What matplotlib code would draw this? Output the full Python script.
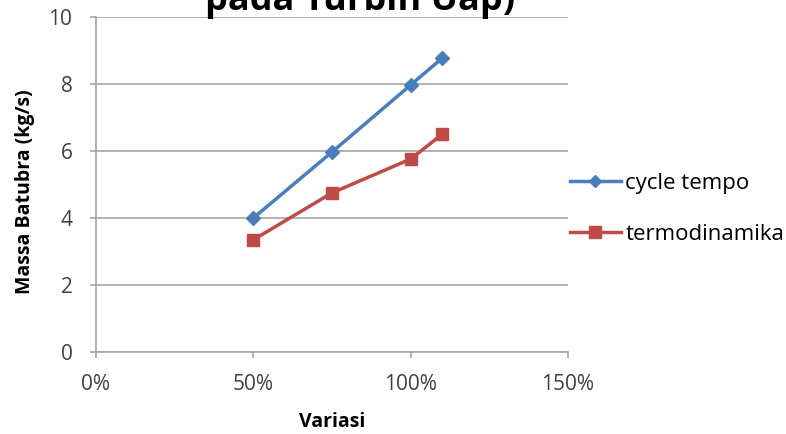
import matplotlib.pyplot as plt
from matplotlib.ticker import FuncFormatter

plt.rcParams['font.family'] = ['Open Sans', 'DejaVu Sans']

# data
variasi = [50, 75, 100, 110]
cycle_tempo = [4.0, 5.97, 7.97, 8.77]
termodinamika = [3.35, 4.75, 5.76, 6.5]

fig = plt.figure(figsize=(7.86, 4.34), dpi=100)
ax = fig.add_axes([96/786, 1 - 352/434, (568-96)/786, (352-17)/434])

ax.plot(variasi, cycle_tempo, color='#4a7ebb', lw=2.5, marker='D', ms=7,
        label='cycle tempo')
ax.plot(variasi, termodinamika, color='#be4b48', lw=2.5, marker='s', ms=9,
        label='termodinamika')

ax.set_xlim(0, 150)
ax.set_ylim(0, 10)
ax.set_xticks([0, 50, 100, 150])
ax.set_yticks([0, 2, 4, 6, 8, 10])
ax.xaxis.set_major_formatter(FuncFormatter(lambda v, p: '%d%%' % v))
ax.grid(axis='y', color='#a6a6a6', lw=1.2)
ax.set_axisbelow(True)
for s in ['top', 'right']:
    ax.spines[s].set_visible(False)
for s in ['left', 'bottom']:
    ax.spines[s].set_color('#a6a6a6')
    ax.spines[s].set_linewidth(1.2)
ax.tick_params(colors='#a6a6a6', labelcolor='#404040', labelsize=15, length=4, width=1.2)
ax.tick_params(axis='x', pad=12)
ax.tick_params(axis='y', pad=13)

ax.set_xlabel('Variasi', fontsize=14, fontweight='bold')
ax.xaxis.set_label_coords(0.5, -0.18)
ax.set_ylabel('Massa Batubra (kg/s)', fontsize=14, fontweight='bold')
ax.yaxis.set_label_coords(-0.129, 0.48)

fig.text(360/786, 1 - 10/434, 'pada Turbin Uap)', fontsize=26, fontweight='bold',
         ha='center', va='baseline')

ax.legend(loc='center left', bbox_to_anchor=(1.004, 0.427), frameon=False, fontsize=16,
          handlelength=2.3, labelspacing=1.35, handletextpad=0.2, markerscale=0.9,
          borderpad=0, borderaxespad=0)

fig.savefig('out.png', dpi=100)
